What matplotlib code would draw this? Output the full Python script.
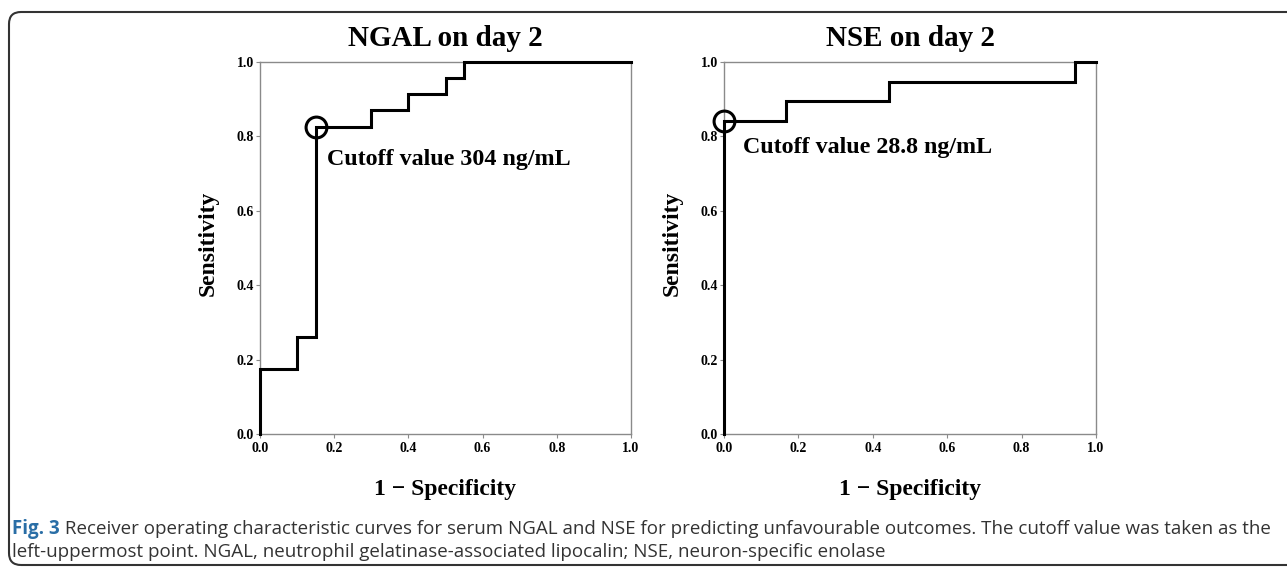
import matplotlib
matplotlib.use("Agg")
import matplotlib.pyplot as plt
from matplotlib.patches import FancyBboxPatch

# ROC vertices
ngal_fpr = [0.0, 0.0, 0.10, 0.10, 0.15, 0.15, 0.30, 0.30, 0.40, 0.40, 0.50, 0.50, 0.55, 0.55, 1.0]
ngal_tpr = [0.0, 0.174, 0.174, 0.261, 0.261, 0.826, 0.826, 0.870, 0.870, 0.913, 0.913, 0.957, 0.957, 1.0, 1.0]
nse_fpr = [0.0, 0.0, 0.167, 0.167, 0.444, 0.444, 0.944, 0.944, 1.0]
nse_tpr = [0.0, 0.842, 0.842, 0.895, 0.895, 0.947, 0.947, 1.0, 1.0]

ngal_cut = (0.15, 0.826)
nse_cut = (0.0, 0.842)
titles = ["NGAL on day 2", "NSE on day 2"]
cut_labels = ["Cutoff value 304 ng/mL", "Cutoff value 28.8 ng/mL"]
ticks = [0.0, 0.2, 0.4, 0.6, 0.8, 1.0]
tick_labels = ["0.0", "0.2", "0.4", "0.6", "0.8", "1.0"]
caption_head = "Fig. 3"
caption_l1 = (" Receiver operating characteristic curves for serum NGAL and NSE for "
              "predicting unfavourable outcomes. The cutoff value was taken as the")
caption_l2 = ("left-uppermost point. NGAL, neutrophil gelatinase-associated lipocalin; "
              "NSE, neuron-specific enolase")

plt.rcParams['font.family'] = ['Liberation Serif', 'DejaVu Serif']
plt.rcParams['font.weight'] = 'bold'

W, H = 1287, 567
fig = plt.figure(figsize=(W / 100, H / 100), dpi=100)

def px_rect(x0, y0, x1, y1):
    return [x0 / W, 1 - y1 / H, (x1 - x0) / W, (y1 - y0) / H]

panels = [
    (px_rect(260, 62, 631, 434), ngal_fpr, ngal_tpr, ngal_cut, (0.18, 0.737)),
    (px_rect(724, 62, 1096, 434), nse_fpr, nse_tpr, nse_cut, (0.051, 0.769)),
]

for i, (rect, fpr, tpr, cut, txt_pos) in enumerate(panels):
    ax = fig.add_axes(rect)
    ax.plot(fpr, tpr, color='black', lw=2.2, clip_on=False, zorder=3,
            solid_joinstyle='miter')
    ax.plot([cut[0]], [cut[1]], marker='o', ms=15, mfc='none', mec='black',
            mew=2.2, clip_on=False, zorder=4)
    ax.text(txt_pos[0], txt_pos[1], cut_labels[i], fontsize=17.3, va='center',
            ha='left', fontweight='bold')
    ax.set_xlim(0, 1)
    ax.set_ylim(0, 1)
    ax.set_xticks(ticks)
    ax.set_xticklabels(tick_labels)
    ax.set_yticks(ticks)
    ax.set_yticklabels(tick_labels)
    for s in ax.spines.values():
        s.set_color('#8a8a8a')
        s.set_linewidth(1.0)
    ax.tick_params(direction='out', length=3, width=0.8, color='#8a8a8a',
                   labelsize=10, pad=1.5)
    ax.tick_params(axis='x', pad=2.5)
    cx = (rect[0] + rect[2] / 2)
    fig.text(cx, 1 - 39 / H, titles[i], fontsize=21, ha='center', va='center',
             fontweight='bold')
    fig.text(cx, 1 - 490 / H, "1 \u2212 Specificity", fontsize=17, ha='center',
             va='center', fontweight='bold')
    fig.text(rect[0] - 52 / W, 1 - 243 / H, "Sensitivity", fontsize=17,
             rotation=90, ha='center', va='center', fontweight='bold')

# rounded frame around the figure, running off the right edge
frame = FancyBboxPatch((0.09, 0.02), 13.3, 5.53, boxstyle="round,pad=0,rounding_size=0.12",
                       transform=fig.dpi_scale_trans, fill=False, ec='#333333',
                       lw=1.5, clip_on=False)
fig.patches.append(frame)

# caption, sized so the first line spans the frame
renderer = fig.canvas.get_renderer()
cap_font = ['Liberation Sans Narrow', 'Open Sans', 'DejaVu Sans']
size = 10
head = fig.text(12 / W, 1 - 529 / H, caption_head, fontsize=size, family=cap_font,
                fontweight='bold', color='#2a6ea6', va='center', ha='left')
body1 = fig.text(0, 1 - 529 / H, caption_l1, fontsize=size, family=cap_font,
                 fontweight='normal', color='#333333', va='center', ha='left')
w = head.get_window_extent(renderer).width + body1.get_window_extent(renderer).width
size = size * (1263 / w)
head.set_fontsize(size)
body1.set_fontsize(size)
hx = head.get_window_extent(renderer).x1
body1.set_x(hx / W)
fig.text(12 / W, 1 - 552 / H, caption_l2, fontsize=size, family=cap_font,
         fontweight='normal', color='#333333', va='center', ha='left')

fig.savefig("out.png", dpi=100)
